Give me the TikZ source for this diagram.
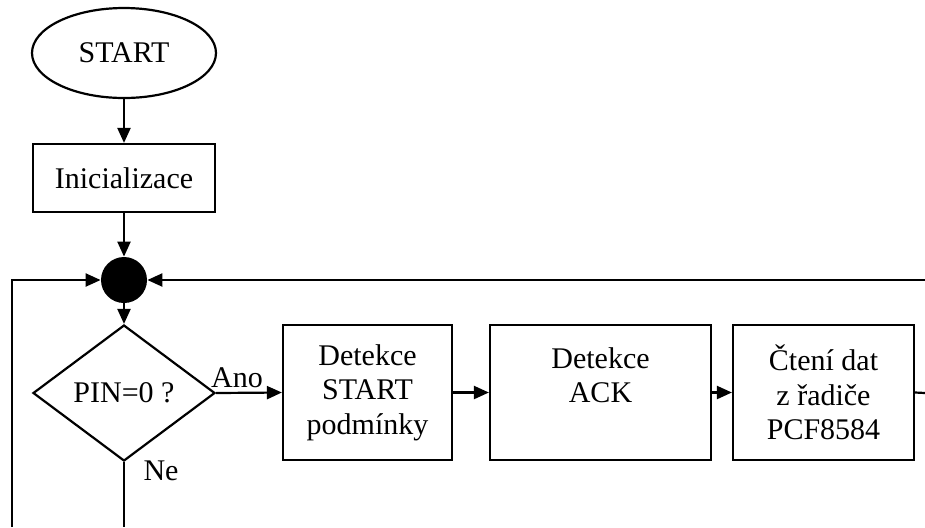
\documentclass[tikz,border=0pt]{standalone}
\usepackage{fontspec}
\setmainfont{Liberation Serif}
\usetikzlibrary{shapes.geometric,arrows.meta}
\begin{document}
\begin{tikzpicture}[x=0.5pt,y=-0.5pt,
  every node/.style={font=\fontsize{15}{17.25}\selectfont},
  line/.style={line width=1.1pt},
  arr/.style={line, -{Triangle[length=7.5pt,width=6.5pt]}},
  box/.style={draw, line width=1.1pt, rectangle, inner sep=0pt, align=center},
  lbl/.style={inner sep=0pt}]
\useasboundingbox (0,0) rectangle (925,527);
\node[draw, line width=1.1pt, ellipse, minimum width=92pt, minimum height=45pt, inner sep=0pt] (start) at (124,53) {START};
\node[box, minimum width=91pt, minimum height=34pt] (init) at (124,178) {Inicializace};
\node[circle, fill=black, minimum size=23pt, inner sep=0pt] (dot) at (124,280) {};
\node[draw, line width=1.1pt, diamond, minimum width=91pt, minimum height=68pt, inner sep=0pt] (dia) at (124,393) {PIN=0 ?};
\node[box, minimum width=84.5pt, minimum height=67.5pt] (b1) at (367.5,392.5) {Detekce\\START\\podmínky};
\node[box, minimum width=110.5pt, minimum height=67.5pt] (b2) at (600.5,392.5) {Detekce\\ACK\\\mbox{}};
\node[box, minimum width=90.5pt, minimum height=67.5pt] (b3) at (823.5,392.5) {Čtení dat\\z řadiče\\PCF8584};
\coordinate (lb) at (12,527);
\coordinate (lt) at (12,280);
\coordinate (rt) at (925,280);
\coordinate (rb) at (925,393);
\coordinate (db) at (124,527);
\draw[arr] (start.south) -- (init.north);
\draw[arr] (init.south) -- (dot.north);
\draw[arr] (dot.south) -- (dia.north);
\draw[arr] (lb) -- (lt) -- (dot.west);
\draw[arr] (rt) -- (dot.east);
\draw[arr] (dia.east) -- (b1.west);
\draw[arr] (b1.east) -- (b2.west);
\draw[arr] (b2.east) -- (b3.west);
\draw[line] (b3.east) -- (rb);
\draw[line] (dia.south) -- (db);
\node[lbl] (ano) at (237,378) {Ano};
\node[lbl] (ne) at (161,471) {Ne};
\end{tikzpicture}
\end{document}
